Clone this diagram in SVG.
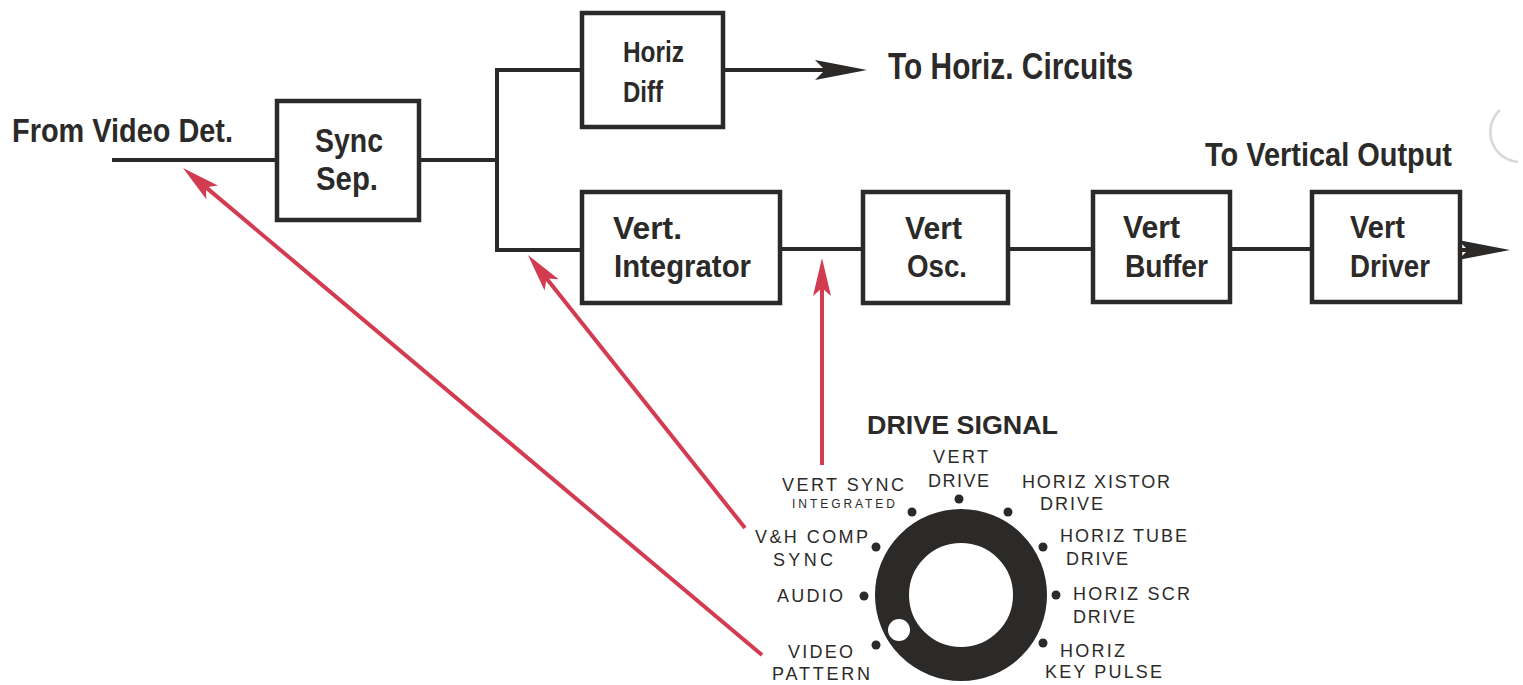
<svg xmlns="http://www.w3.org/2000/svg" width="1523" height="685" viewBox="0 0 1523 685">
<style>
.box{fill:#fff;stroke:#2c2a28;stroke-width:4.5}
.wire{fill:none;stroke:#2c2a28;stroke-width:4}
.red{fill:none;stroke:#d33c50;stroke-width:4}
.cond{font-family:"Liberation Sans Narrow","Liberation Sans",Arial,sans-serif;font-weight:bold;fill:#2c2a28}
.lab{font-family:"Liberation Sans",Arial,sans-serif;font-size:18px;fill:#2c2a28}
.small{font-family:"Liberation Sans",Arial,sans-serif;font-size:12px;fill:#2c2a28}
.dot{fill:#2c2a28}
</style>
<defs>
<marker id="ahBlack" markerUnits="userSpaceOnUse" orient="auto" markerWidth="80" markerHeight="40" viewBox="-40 -20 80 40" refX="0" refY="0">
<path d="M20,0 L-32,-10 L-22,0 L-32,10 Z" fill="#2c2a28"/>
</marker>
<marker id="ahRed" markerUnits="userSpaceOnUse" orient="auto" markerWidth="80" markerHeight="40" viewBox="-40 -20 80 40" refX="0" refY="0">
<path d="M20,0 L-18,-9 L-10,0 L-18,9 Z" fill="#d33c50"/>
</marker>
</defs>
<rect width="1523" height="685" fill="#fff"/>

<g id="connectors">
<line class="wire" x1="112" y1="160" x2="277" y2="160"/>
<line class="wire" x1="419" y1="160" x2="497" y2="160"/>
<polyline class="wire" points="582,70 497,70 497,250 582,250"/>
<line class="wire" x1="723" y1="70" x2="847" y2="70" marker-end="url(#ahBlack)"/>
<line class="wire" x1="780" y1="249" x2="863" y2="249"/>
<line class="wire" x1="1008" y1="249" x2="1093" y2="249"/>
<line class="wire" x1="1230" y1="249" x2="1312" y2="249"/>
<line class="wire" x1="1460" y1="250" x2="1490" y2="250" marker-end="url(#ahBlack)"/>
<line class="red" x1="762" y1="655" x2="198.3" y2="180.9" marker-end="url(#ahRed)"/>
<line class="red" x1="745" y1="528" x2="540.4" y2="270.7" marker-end="url(#ahRed)"/>
<line class="red" x1="822" y1="465" x2="822" y2="278" marker-end="url(#ahRed)"/>
</g>

<g id="label-from-video">
<text class="cond" x="12" y="142" font-size="34" textLength="221" lengthAdjust="spacingAndGlyphs">From Video Det.</text>
</g>

<g id="sync-sep">
<rect class="box" x="277" y="101" width="142" height="119"/>
<text class="cond" x="315" y="152" font-size="34" textLength="68" lengthAdjust="spacingAndGlyphs">Sync</text>
<text class="cond" x="316" y="190" font-size="34" textLength="62" lengthAdjust="spacingAndGlyphs">Sep.</text>
</g>

<g id="horiz-diff">
<rect class="box" x="582" y="13" width="141" height="114"/>
<text class="cond" x="623" y="62" font-size="29" textLength="61" lengthAdjust="spacingAndGlyphs">Horiz</text>
<text class="cond" x="623" y="102" font-size="29" textLength="40" lengthAdjust="spacingAndGlyphs">Diff</text>
</g>

<g id="label-to-horiz">
<text class="cond" x="888" y="79" font-size="36" textLength="245" lengthAdjust="spacingAndGlyphs">To Horiz. Circuits</text>
</g>

<g id="vert-integrator">
<rect class="box" x="582" y="192" width="198" height="111"/>
<text class="cond" x="613" y="239" font-size="31" textLength="69" lengthAdjust="spacingAndGlyphs">Vert.</text>
<text class="cond" x="614" y="277" font-size="31" textLength="137" lengthAdjust="spacingAndGlyphs">Integrator</text>
</g>

<g id="vert-osc">
<rect class="box" x="863" y="192" width="145" height="111"/>
<text class="cond" x="905" y="239" font-size="31" textLength="57" lengthAdjust="spacingAndGlyphs">Vert</text>
<text class="cond" x="907" y="277" font-size="31" textLength="60" lengthAdjust="spacingAndGlyphs">Osc.</text>
</g>

<g id="vert-buffer">
<rect class="box" x="1093" y="192" width="137" height="110"/>
<text class="cond" x="1123" y="238" font-size="31" textLength="57" lengthAdjust="spacingAndGlyphs">Vert</text>
<text class="cond" x="1125" y="277" font-size="31" textLength="83" lengthAdjust="spacingAndGlyphs">Buffer</text>
</g>

<g id="vert-driver">
<rect class="box" x="1312" y="192" width="148" height="110"/>
<text class="cond" x="1350" y="238" font-size="31" textLength="55" lengthAdjust="spacingAndGlyphs">Vert</text>
<text class="cond" x="1350" y="277" font-size="31" textLength="80" lengthAdjust="spacingAndGlyphs">Driver</text>
</g>

<g id="label-to-vertical">
<text class="cond" x="1205" y="166" font-size="33" textLength="247" lengthAdjust="spacingAndGlyphs">To Vertical Output</text>
</g>

<g id="drive-signal-knob">
<text x="867" y="434" font-family="Liberation Sans,Arial,sans-serif" font-weight="bold" font-size="25" fill="#2c2a28" textLength="191" lengthAdjust="spacingAndGlyphs">DRIVE SIGNAL</text>
<circle cx="961" cy="595" r="69" fill="none" stroke="#2c2a28" stroke-width="34"/>
<circle cx="899" cy="630" r="11" fill="#fff"/>
<circle class="dot" cx="959" cy="499" r="4.5"/>
<circle class="dot" cx="912" cy="512" r="4.5"/>
<circle class="dot" cx="1008" cy="512" r="4.5"/>
<circle class="dot" cx="876" cy="547" r="4.5"/>
<circle class="dot" cx="1043" cy="547" r="4.5"/>
<circle class="dot" cx="864" cy="596" r="4.5"/>
<circle class="dot" cx="1056" cy="595" r="4.5"/>
<circle class="dot" cx="876" cy="645" r="4.5"/>
<circle class="dot" cx="1043" cy="643" r="4.5"/>
<text class="lab" x="933" y="463" textLength="55">VERT</text>
<text class="lab" x="928" y="487" textLength="61">DRIVE</text>
<text class="lab" x="782" y="491" textLength="122">VERT SYNC</text>
<text class="small" x="792" y="508" textLength="103">INTEGRATED</text>
<text class="lab" x="1022" y="488" textLength="148">HORIZ XISTOR</text>
<text class="lab" x="1040" y="510" textLength="63">DRIVE</text>
<text class="lab" x="755" y="543" textLength="113">V&amp;H COMP</text>
<text class="lab" x="773" y="566" textLength="60">SYNC</text>
<text class="lab" x="1060" y="542" textLength="127">HORIZ TUBE</text>
<text class="lab" x="1066" y="565" textLength="62">DRIVE</text>
<text class="lab" x="777" y="602" textLength="66">AUDIO</text>
<text class="lab" x="1073" y="600" textLength="117">HORIZ SCR</text>
<text class="lab" x="1073" y="623" textLength="62">DRIVE</text>
<text class="lab" x="788" y="658" textLength="65">VIDEO</text>
<text class="lab" x="772" y="680" textLength="98">PATTERN</text>
<text class="lab" x="1060" y="657" textLength="65">HORIZ</text>
<text class="lab" x="1045" y="678" textLength="117">KEY PULSE</text>
</g>

<path d="M1500,110 A30,30 0 0 0 1518,162" fill="none" stroke="#d8d8d8" stroke-width="2.5"/>
</svg>
